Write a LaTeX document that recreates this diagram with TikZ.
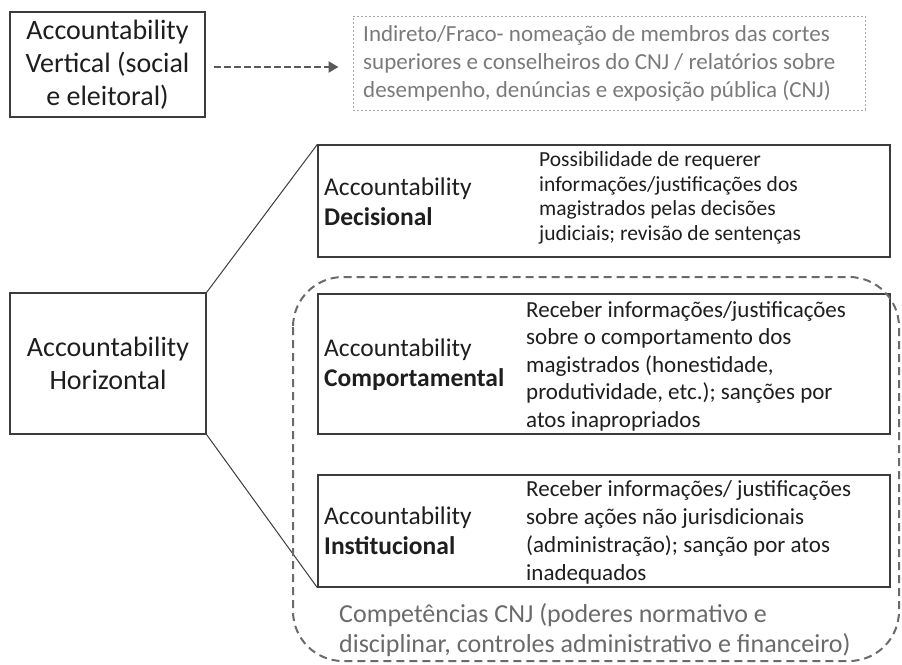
\documentclass[tikz,border=0pt]{standalone}
\usepackage{fontspec}
\setmainfont{Carlito}
\usepackage{tikz}
\usetikzlibrary{arrows.meta,positioning}

\definecolor{boxc}{HTML}{3C3C3C}
\definecolor{txtc}{HTML}{1E1E1E}
\definecolor{softc}{HTML}{7A7A7A}
\definecolor{framec}{HTML}{A8A8A8}
\definecolor{cnjc}{HTML}{6A6A6A}

\tikzset{
  box/.style={draw=boxc, line width=1.3pt, rectangle, inner sep=0pt},
  bigtxt/.style={align=center, text=txtc, font=\fontsize{28}{33}\selectfont},
  lbl/.style={anchor=west, align=left, inner sep=0pt, text=txtc, font=\fontsize{25.5}{30}\selectfont},
  desc/.style={anchor=west, align=left, inner sep=0pt, text=txtc},
  link/.style={draw=boxc, line width=1pt},
}

\begin{document}
\begin{tikzpicture}[x=1pt, y=-1pt]
\useasboundingbox (0,0) rectangle (902,664);

% top row
\node[box, bigtxt, minimum width=195pt, minimum height=105pt] (ver) at (107.5,64.5)
  {Accountability\\Vertical (social\\e eleitoral)};
\node[box, draw=framec, line width=1pt, dash pattern=on 2pt off 2pt,
  minimum width=512pt, minimum height=94pt] (indir) at (609,63) {};
\node[desc, text=softc, font=\fontsize{23}{28}\selectfont] (indirt) at (363,63)
  {Indireto/Fraco- nomeação de membros das cortes\\
   superiores e conselheiros do CNJ / relatórios sobre\\
   desempenho, denúncias e exposição pública (CNJ)};
\draw[draw=boxc!85, line width=2.8pt, dash pattern=on 7pt off 3pt,
  -{Triangle[length=10pt, width=11pt]}, shorten <=8pt, shorten >=14pt] (ver.east |- 0,67) -- (indir.west |- 0,67);

% horizontal accountability
\node[box, bigtxt, minimum width=196pt, minimum height=141pt] (hor) at (108,363.5)
  {Accountability\\Horizontal};

\node[box, minimum width=572pt, minimum height=112pt] (dec) at (604,201) {};
\node[lbl] (decl) at (324,202) {Accountability\\\textbf{Decisional}};
\node[desc, font=\fontsize{21.5}{24.5}\selectfont] (decd) at (539,198)
  {Possibilidade de requerer\\
   informações/justificações dos\\
   magistrados pelas decisões\\
   judiciais; revisão de sentenças};

\node[box, minimum width=572pt, minimum height=140pt] (comp) at (604,364) {};
\node[lbl] (compl) at (324,365) {Accountability\\\textbf{Comportamental}};
\node[desc, font=\fontsize{23}{27.5}\selectfont] (compd) at (526,366)
  {Receber informações/justificações\\
   sobre o comportamento dos\\
   magistrados (honestidade,\\
   produtividade, etc.); sanções por\\
   atos inapropriados};

\node[box, minimum width=572pt, minimum height=112pt] (inst) at (604,531) {};
\node[lbl] (instl) at (324,531) {Accountability\\\textbf{Institucional}};
\node[desc, font=\fontsize{23}{28}\selectfont] (instd) at (526,532)
  {Receber informações/ justificações\\
   sobre ações não jurisdicionais\\
   (administração); sanção por atos\\
   inadequados};

\draw[link] (hor.north east) -- (dec.north west);
\draw[link] (hor.south east) -- (inst.south west);

% CNJ competences
\draw[draw=cnjc, line width=2pt, dash pattern=on 8pt off 5pt, rounded corners=50pt]
  (293,277) rectangle (899,661);
\node[desc, text=cnjc, font=\fontsize{26}{30}\selectfont] (cnj) at (339,630)
  {Competências CNJ (poderes normativo e\\
   disciplinar, controles administrativo e financeiro)};

\end{tikzpicture}
\end{document}
